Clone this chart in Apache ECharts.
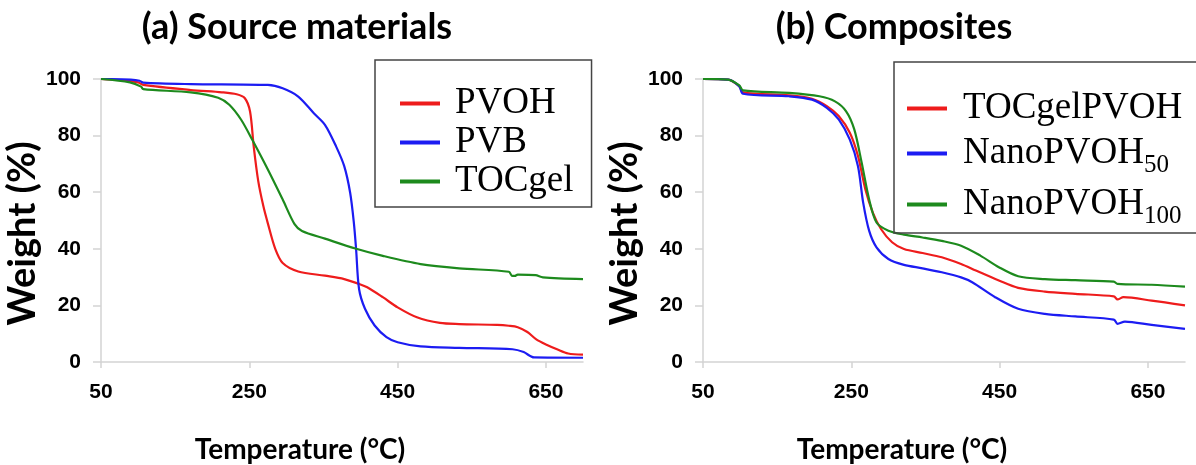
<!DOCTYPE html>
<html>
<head>
<meta charset="utf-8">
<script src="https://cdn.jsdelivr.net/npm/echarts@6/dist/echarts.min.js"></script>
<style>
  html, body { margin: 0; padding: 0; background: #fff; }
  #chart { width: 1196px; height: 465px; }
</style>
</head>
<body>
<div id="chart"></div>
<script>
// tick labels
const tempTicks = [50, 250, 450, 650];

// (a) source materials — temperature (°C) / weight (%)
const pvohT = [50, 80, 100, 107, 171, 213, 233, 244, 251, 256, 262, 269, 275, 285, 295, 316, 352, 378, 399, 409, 430, 450, 476, 507, 533, 584, 600, 612, 625, 637, 650, 665, 680, 700];
const pvohW = [100, 99.5, 98.8, 97.9, 96.1, 95.3, 94.6, 93.2, 88.5, 76, 64, 55, 49, 40, 35, 32, 30.5, 29.3, 27.5, 26.4, 22.9, 19.3, 15.8, 13.8, 13.4, 13.1, 12.8, 12.3, 10.6, 8, 6.2, 4.5, 3, 2.6];

const pvbT = [50, 90, 102, 107, 171, 275, 295, 316, 337, 352, 367, 378, 386, 391, 394, 398, 406, 419, 435, 450, 481, 533, 605, 620, 634, 700];
const pvbW = [100, 99.8, 99.4, 98.7, 98.2, 97.9, 96.7, 93.8, 87.9, 83.8, 76.2, 69.2, 59.8, 49.2, 39.9, 25.8, 18.8, 12.9, 8.8, 7, 5.5, 5.0, 4.5, 3.5, 1.6, 1.5];

const tocT = [50, 89, 104, 107, 171, 208, 223, 239, 254, 275, 295, 311, 321, 352, 393, 430, 481, 533, 600, 604, 608, 612, 636, 646, 700];
const tocW = [100, 98.8, 97.3, 96.4, 95.3, 93.4, 90.9, 85.6, 78.5, 68, 57.4, 48.7, 46.3, 43.6, 40.1, 37.5, 34.6, 33.1, 31.9, 30.5, 30.4, 30.9, 30.7, 29.9, 29.3];

// (b) composites
const tpT = [50, 84, 99, 104, 166, 197, 217, 233, 248, 259, 269, 279, 290, 305, 321, 346, 372, 398, 418, 449, 475, 511, 552, 604, 609, 617, 655, 700];
const tpW = [100, 99.8, 97.4, 95.3, 94.2, 93, 90.4, 86.9, 81, 72.8, 61, 52.8, 47, 42.3, 39.9, 38.5, 37, 34.6, 32.3, 28.8, 26.2, 24.9, 24.1, 23.2, 22.1, 22.9, 21.7, 20];

const n50T = [50, 84, 99, 104, 166, 197, 217, 233, 248, 259, 266, 274, 284, 300, 321, 346, 372, 398, 413, 444, 475, 511, 552, 604, 609, 619, 655, 700];
const n50W = [100, 99.8, 97.4, 94.8, 93.9, 92.7, 89.8, 85.7, 78.6, 69.2, 56.3, 46.4, 40.5, 36.4, 34.3, 33.1, 31.7, 29.9, 28.2, 22.9, 18.8, 17, 16.1, 15, 13.5, 14.3, 13.1, 11.7];

const n100T = [50, 84, 99, 104, 166, 207, 228, 243, 254, 264, 274, 284, 300, 321, 346, 372, 398, 424, 449, 475, 511, 552, 604, 609, 655, 700];
const n100W = [100, 99.8, 97.7, 96, 95.1, 93.9, 92.1, 88.6, 82.2, 70.4, 57.5, 49.3, 46.4, 45, 44, 42.8, 41.1, 37.6, 33.5, 30.3, 29.3, 28.9, 28.4, 27.6, 27.3, 26.6];

const RED = '#ee1c1c', BLUE = '#1c1cf2', GREEN = '#1d8a1d';
const AXIS_GRAY = '#d3d3d3';
const tickFont = { fontFamily: 'Liberation Sans', fontWeight: 'bold', fontSize: 21, color: '#000' };
const nameFont = { fontFamily: 'Lato', fontWeight: 'bold', color: '#000' };

function zip(xs, ys) {
  return xs.map((x, i) => [x, ys[i]]);
}

function makeX(idx) {
  return {
    type: 'value', gridIndex: idx, min: 50, max: 700,
    name: 'Temperature (°C)', nameLocation: 'middle', nameGap: 74,
    nameTextStyle: Object.assign({ fontSize: 28, padding: [0, 84, 0, 0] }, nameFont),
    axisLine: { show: true, lineStyle: { color: AXIS_GRAY, width: 1.5 } },
    axisTick: { show: true, length: 6, customValues: tempTicks, lineStyle: { color: AXIS_GRAY, width: 1.5 } },
    axisLabel: Object.assign({ customValues: tempTicks, margin: 20 }, tickFont),
    splitLine: { show: false }
  };
}

function makeY(idx) {
  return {
    type: 'value', gridIndex: idx, min: 0, max: 100, interval: 20,
    name: 'Weight (%)', nameLocation: 'middle', nameGap: 54,
    nameTextStyle: Object.assign({ fontSize: 38, padding: [0, 26, 0, 0] }, nameFont),
    axisLine: { show: true, lineStyle: { color: AXIS_GRAY, width: 1.5 } },
    axisTick: { show: true, length: 8, lineStyle: { color: AXIS_GRAY, width: 1.5 } },
    axisLabel: Object.assign({ margin: 20 }, tickFont),
    splitLine: { show: false }
  };
}

function line(name, xs, ys, color, idx) {
  return {
    name: name, type: 'line', xAxisIndex: idx, yAxisIndex: idx,
    data: zip(xs, ys),
    showSymbol: false, smooth: 0.3,
    lineStyle: { color: color, width: 2.2, join: 'round' },
    itemStyle: { color: color },
    animation: false
  };
}

const serif = { fontFamily: 'Liberation Serif', fontSize: 37, color: '#000' };

const chart = echarts.init(document.getElementById('chart'));
chart.setOption({
  backgroundColor: '#fff',
  animation: false,
  title: [
    { text: '(a) Source materials', left: 297, top: 9, textAlign: 'center', padding: 0,
      textStyle: Object.assign({ fontSize: 36 }, nameFont) },
    { text: '(b) Composites', left: 894, top: 9, textAlign: 'center', padding: 0,
      textStyle: Object.assign({ fontSize: 36 }, nameFont) }
  ],
  grid: [
    { left: 101, top: 79, width: 482, height: 283, outerBoundsMode: 'none' },
    { left: 703, top: 79, width: 482, height: 283, outerBoundsMode: 'none' }
  ],
  xAxis: [makeX(0), makeX(1)],
  yAxis: [makeY(0), makeY(1)],
  legend: [
    {
      data: ['PVOH', 'PVB', 'TOCgel'],
      orient: 'vertical', left: 375, top: 60,
      padding: [25, 18, 7, 25], itemGap: 2,
      borderColor: '#444', borderWidth: 1.5,
      icon: 'rect', itemWidth: 40, itemHeight: 4,
      formatter: function (name) {
        return '{r' + ['PVOH', 'PVB', 'TOCgel'].indexOf(name) + '|' + name + '}';
      },
      textStyle: Object.assign({
        rich: {
          r0: Object.assign({ lineHeight: 36, padding: [0, 0, 0, 10] }, serif),
          r1: Object.assign({ lineHeight: 46, padding: [0, 0, 0, 10] }, serif),
          r2: Object.assign({ lineHeight: 50, padding: [0, 0, 0, 10] }, serif)
        }
      }, serif)
    },
    {
      data: ['TOCgelPVOH', 'NanoPVOH50', 'NanoPVOH100'],
      orient: 'vertical', left: 894, top: 62,
      padding: [28, 18, 4, 13], itemGap: 2,
      borderColor: '#444', borderWidth: 1.5,
      icon: 'rect', itemWidth: 40, itemHeight: 4,
      formatter: function (name) {
        if (name === 'TOCgelPVOH') return '{a|TOCgelPVOH}';
        return '{b|NanoPVOH}{s|' + name.replace('NanoPVOH', '') + '}';
      },
      textStyle: Object.assign({
        rich: {
          a: Object.assign({ lineHeight: 33, padding: [0, 0, 0, 11] }, serif),
          b: Object.assign({ lineHeight: 40, padding: [0, 0, 0, 11] }, serif),
          s: { fontFamily: 'Liberation Serif', fontSize: 25, lineHeight: 25, color: '#000', padding: [24, 0, 0, 0] }
        }
      }, serif)
    }
  ],
  series: [
    line('PVOH', pvohT, pvohW, RED, 0),
    line('PVB', pvbT, pvbW, BLUE, 0),
    line('TOCgel', tocT, tocW, GREEN, 0),
    line('TOCgelPVOH', tpT, tpW, RED, 1),
    line('NanoPVOH50', n50T, n50W, BLUE, 1),
    line('NanoPVOH100', n100T, n100W, GREEN, 1)
  ]
});
</script>
</body>
</html>
